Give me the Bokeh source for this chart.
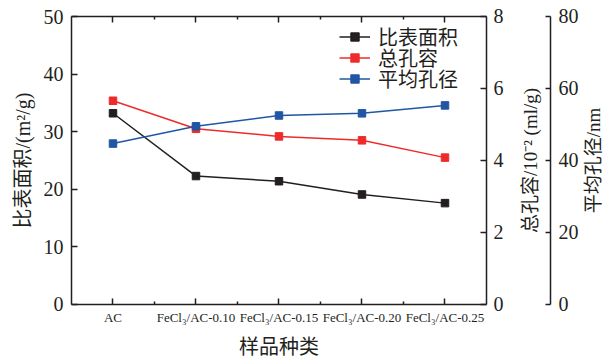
import math
from bokeh.plotting import figure
from bokeh.models import LinearAxis, Range1d, FixedTicker, Legend, LegendItem, Label
from bokeh.embed import file_html
from bokeh.resources import INLINE

# Samples and measured pore properties
categories = ["AC", "FeCl₃/AC-0.10", "FeCl₃/AC-0.15", "FeCl₃/AC-0.20", "FeCl₃/AC-0.25"]
surface_area = [33.2, 22.3, 21.4, 19.1, 17.6]      # m²/g
pore_volume = [5.66, 4.88, 4.67, 4.56, 4.08]       # 10⁻² ml/g
pore_diameter = [44.7, 49.5, 52.5, 53.1, 55.3]     # nm
series_names = ["比表面积", "总孔容", "平均孔径"]

left_ticks = [0, 10, 20, 30, 40, 50]
vol_ticks = [0, 2, 4, 6, 8]
dia_ticks = [0, 20, 40, 60, 80]

INK = "#231f20"
RED = "#ee2b2b"
BLUE = "#2156a4"
SERIF = "Liberation Serif"
MIXED = "Liberation Serif, Noto Sans CJK SC"

n = len(categories)
xs = [i + 0.5 for i in range(n)]
bounds = [float(i) for i in range(1, n)]

# The plotting frame fills the whole canvas; the data box is x in [0, n] and
# each value axis spans [0, max]. All axes are pinned at fixed positions and the
# ranges extend past the box to leave room for tick labels and titles.
X_RANGE = (-0.8554, 6.5422)
Y_RANGE = (-10.417, 52.778)
VOL_RANGE = (-1.6667, 8.4444)
DIA_RANGE = (-16.667, 84.444)
DIA_AXIS_X = 5.771

p = figure(frame_width=614, frame_height=364, output_backend="svg", toolbar_location=None,
           x_range=Range1d(*X_RANGE), y_range=Range1d(*Y_RANGE),
           x_axis_location=None, y_axis_location=None,
           min_border=0)
p.extra_y_ranges = {"vol": Range1d(*VOL_RANGE), "dia": Range1d(*DIA_RANGE)}
p.xgrid.visible = False
p.ygrid.visible = False
p.outline_line_color = None
p.background_fill_color = "white"
p.border_fill_color = "white"


def style(ax, tick_len=6):
    ax.axis_line_color = INK
    ax.axis_line_width = 1.5
    ax.major_tick_line_color = INK
    ax.major_tick_line_width = 1.5
    ax.major_tick_in = tick_len
    ax.major_tick_out = 0
    ax.minor_tick_line_color = INK
    ax.minor_tick_line_width = 1.5
    ax.minor_tick_in = 3
    ax.minor_tick_out = 0
    ax.major_label_text_font = SERIF
    ax.major_label_text_color = INK


# bottom: sample names at the centre ticks, short ticks between samples
bottom = LinearAxis(ticker=FixedTicker(ticks=xs, minor_ticks=bounds), bounds=(0, n),
                    fixed_location=0,
                    major_label_overrides={x: c for x, c in zip(xs, categories)})
style(bottom)
bottom.major_label_text_font_size = "13px"
bottom.major_label_standoff = 6
p.add_layout(bottom, "below")

top = LinearAxis(ticker=FixedTicker(ticks=xs, minor_ticks=bounds), bounds=(0, n),
                 fixed_location=50, major_label_overrides={x: "" for x in xs})
style(top)
top.major_label_text_font_size = "1px"
top.major_label_standoff = 0
p.add_layout(top, "above")

left = LinearAxis(ticker=FixedTicker(ticks=left_ticks), bounds=(0, 50), fixed_location=0)
style(left)
left.major_label_text_font_size = "20px"
left.major_label_standoff = 8
p.add_layout(left, "left")

right1 = LinearAxis(y_range_name="vol", ticker=FixedTicker(ticks=vol_ticks), bounds=(0, 8),
                    fixed_location=n)
style(right1)
right1.major_label_text_font_size = "20px"
right1.major_label_standoff = 7
p.add_layout(right1, "right")

right2 = LinearAxis(y_range_name="dia", ticker=FixedTicker(ticks=dia_ticks), bounds=(0, 80),
                    fixed_location=DIA_AXIS_X)
style(right2, 5)
right2.major_label_text_font_size = "20px"
right2.major_label_standoff = 8
p.add_layout(right2, "right")

# axis titles
titles = [
    ("比表面积/(m²/g)", -0.59, 25, math.pi / 2, "20px"),
    ("总孔容/10⁻² (ml/g)", 5.53, 25, math.pi / 2, "19px"),
    ("平均孔径/nm", 6.289, 25, math.pi / 2, "19px"),
    ("样品种类", n / 2, -7.3, 0, "20px"),
]
for txt, tx, ty, ang, size in titles:
    p.add_layout(Label(x=tx, y=ty, text=txt, angle=ang,
                       text_align="center", text_baseline="middle",
                       text_font=MIXED, text_font_size=size, text_color=INK))

# series
l1 = p.line(xs, surface_area, line_color=INK, line_width=1.5)
m1 = p.scatter(xs, surface_area, marker="square", size=7.5, fill_color=INK, line_color=INK)
l2 = p.line(xs, pore_volume, line_color=RED, line_width=1.5, y_range_name="vol")
m2 = p.scatter(xs, pore_volume, marker="square", size=7.5, fill_color=RED, line_color=RED,
               y_range_name="vol")
l3 = p.line(xs, pore_diameter, line_color=BLUE, line_width=1.5, y_range_name="dia")
m3 = p.scatter(xs, pore_diameter, marker="square", size=7.5, fill_color=BLUE, line_color=BLUE,
               y_range_name="dia")

# one single-row legend per series keeps the rows tightly packed
for name, rends, y_off in zip(series_names, [[l1, m1], [l2, m2], [l3, m3]], [313, 292, 271]):
    lg = Legend(items=[LegendItem(label=name, renderers=rends)])
    lg.background_fill_alpha = 0
    lg.border_line_color = None
    lg.label_text_font = MIXED
    lg.label_text_font_size = "20px"
    lg.label_text_color = INK
    lg.glyph_width = 31
    lg.glyph_height = 21
    lg.label_height = 21
    lg.label_standoff = 8
    lg.padding = 0
    lg.margin = 0
    lg.location = (339, y_off)
    p.add_layout(lg)

open("out.html", "w").write(file_html(p, INLINE))
